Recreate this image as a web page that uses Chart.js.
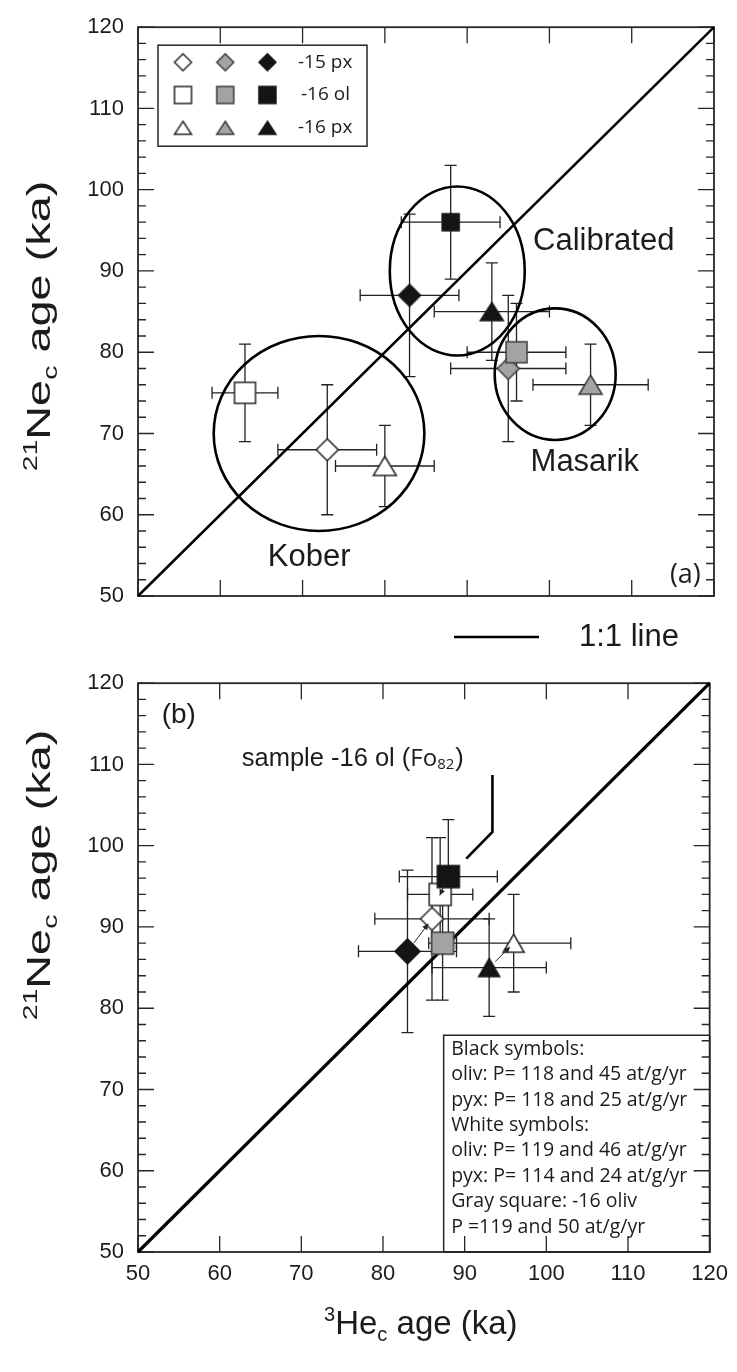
<!DOCTYPE html>
<html><head><meta charset="utf-8">
<script src="https://cdn.jsdelivr.net/npm/chart.js@4.4.0/dist/chart.umd.min.js"></script>
<style>
html,body{margin:0;padding:0;background:#fff;}
#wrapA{position:absolute;left:0;top:0;width:737px;height:656px;}
#wrapB{position:absolute;left:0;top:656px;width:737px;height:716px;}
canvas{display:block;}
</style></head><body>
<div id="wrapA"><canvas id="cA" width="737" height="656"></canvas></div>
<div id="wrapB"><canvas id="cB" width="737" height="716"></canvas></div>
<script>
// ---------------- data ----------------
const axisTicks = [50, 60, 70, 80, 90, 100, 110, 120];
const sampleNames = ['-15 px', '-16 ol', '-16 px'];
const sampleShapes = ['diamond', 'square', 'triangle'];

// Panel (a): x = 3He_c age (ka), y = 21Ne_c age (ka)
const aWhiteHe = [73, 63, 80];
const aWhiteNe = [68, 75, 66];
const aWhiteHeErr = [6, 4, 6];
const aWhiteNeErr = [8, 6, 5];
const aGrayHe = [95, 96, 105];
const aGrayNe = [78, 80, 76];
const aGrayHeErr = [7, 6, 7];
const aGrayNeErr = [9, 6, 5];
const aBlackHe = [83, 88, 93];
const aBlackNe = [87, 96, 85];
const aBlackHeErr = [6, 6, 7];
const aBlackNeErr = [10, 7, 6];

const groupNames = ['Kober', 'Masarik', 'Calibrated'];
const groupHe = [72, 100.7, 88.8];
const groupNe = [70, 77.3, 90];
const groupHeRadius = [12.8, 7.35, 8.2];
const groupNeRadius = [12, 8.1, 10.4];
const groupLabelHe = [70.8, 104.3, 106.6];
const groupLabelNe = [54.8, 66.4, 93.6];

// Panel (b)
const bBlackHe = [83, 88, 93];
const bBlackNe = [87, 96.2, 85];
const bBlackHeErr = [6, 6, 7];
const bBlackNeErr = [10, 7, 6];
const bWhiteHe = [86, 87, 96];
const bWhiteNe = [91, 94, 88];
const bWhiteHeErr = [7, 4, 7];
const bWhiteNeErr = [10, 7, 6];
const bGrayHe = [87.3];
const bGrayNe = [88];
const bGrayHeErr = [1.7];
const bGrayNeErr = [7];

const oneToOne = [50, 120];
const calloutHe = [93.4, 93.4, 90.2];
const calloutNe = [108.7, 101.7, 98.4];
const calloutText = 'sample -16 ol (';
const noteLines = ['Black symbols:', 'oliv: P= 118 and 45 at/g/yr', 'pyx: P= 118 and 25 at/g/yr',
  'White symbols:', 'oliv: P= 119 and 46 at/g/yr', 'pyx: P= 114 and 24 at/g/yr',
  'Gray square: -16 oliv', 'P =119 and 50 at/g/yr'];

// ---------------- styles ----------------
const SANS = '"Liberation Sans", Arial, sans-serif';
const MYR = '"Open Sans", "Noto Sans", sans-serif';
const INK = '#1c1c1c';
const FILL = {white: '#ffffff', gray: '#a3a3a3', black: '#151515'};
const EDGE = {white: '#262626', gray: '#3c3c3c', black: '#151515'};

function marker(shape, tone, w, h) {
  const c = document.createElement('canvas');
  c.width = Math.ceil(w) + 4; c.height = Math.ceil(h) + 4;
  const g = c.getContext('2d');
  g.translate(c.width / 2, c.height / 2);
  g.beginPath();
  if (shape === 'diamond') { g.moveTo(0, -h / 2); g.lineTo(w / 2, 0); g.lineTo(0, h / 2); g.lineTo(-w / 2, 0); g.closePath(); }
  else if (shape === 'square') { g.rect(-w / 2, -h / 2, w, h); }
  else { g.moveTo(0, -h / 2); g.lineTo(w / 2, h / 2); g.lineTo(-w / 2, h / 2); g.closePath(); }
  g.fillStyle = FILL[tone]; g.fill();
  g.lineWidth = 1.5; g.strokeStyle = EDGE[tone]; g.lineJoin = 'miter'; g.stroke();
  return c;
}
const sizeA = {diamond: [22, 22], square: [21, 21], triangle: [23, 19]};
const sizeABlack = {diamond: [22, 22], square: [17, 17], triangle: [23, 18]};
const sizeB = {diamond: [23, 23], square: [22, 22], triangle: [21, 18]};
const sizeBBlack = {diamond: [25, 25], square: [22, 22], triangle: [21, 18]};
const sizeLegend = {diamond: [17, 17], square: [17, 17], triangle: [17, 13]};

function pts(he, ne) { return he.map((v, i) => ({x: v, y: ne[i]})); }
function markerDataset(label, he, ne, heErr, neErr, tone, sizes, shapes) {
  return {
    type: 'scatter', label, data: pts(he, ne), errX: heErr, errY: neErr,
    pointStyle: (shapes || sampleShapes).map(s => marker(s, tone, sizes[s][0], sizes[s][1])),
    pointRadius: 10, showLine: false, order: 0
  };
}
function lineDataset(width) {
  return {type: 'line', data: pts(oneToOne, oneToOne), borderColor: '#000', borderWidth: width,
    pointRadius: 0, showLine: true, fill: false, order: 10, clip: false};
}

function scaleOpts(H, showX) {
  const tickFont = {family: SANS, size: 22};
  const setTicks = s => { s.ticks = axisTicks.map(v => ({value: v})); };
  return {
    x: {type: 'linear', position: 'bottom', min: axisTicks[0], max: axisTicks[axisTicks.length - 1],
      grid: {display: false, drawTicks: false}, border: {display: false},
      afterBuildTicks: setTicks,
      ticks: {display: showX, padding: 9, color: INK, font: tickFont, maxRotation: 0},
      afterFit: s => { s.height = H - 596; }},
    y: {type: 'linear', position: 'left', min: axisTicks[0], max: axisTicks[axisTicks.length - 1],
      grid: {display: false, drawTicks: false}, border: {display: false},
      afterBuildTicks: setTicks,
      ticks: {padding: 14, color: INK, font: tickFont},
      afterFit: s => { s.width = 138; }}
  };
}

// ---------------- drawing helpers ----------------
const framePlugin = {
  id: 'frame',
  beforeDatasetsDraw(chart) {
    const {ctx, scales: {x, y}} = chart;
    const L = x.getPixelForValue(x.min), R = x.getPixelForValue(x.max);
    const T = y.getPixelForValue(y.max), B = y.getPixelForValue(y.min);
    ctx.save();
    ctx.strokeStyle = '#262626'; ctx.lineWidth = 1.3;
    ctx.beginPath();
    axisTicks.forEach(v => { const p = x.getPixelForValue(v); ctx.moveTo(p, B); ctx.lineTo(p, B - 16); ctx.moveTo(p, T); ctx.lineTo(p, T + 16); });
    for (let v = y.min; v <= y.max; v += 2) {
      const p = y.getPixelForValue(v); const len = (v % 10 === 0) ? 16 : 8;
      ctx.moveTo(L, p); ctx.lineTo(L + len, p); ctx.moveTo(R, p); ctx.lineTo(R - len, p);
    }
    ctx.stroke();
    ctx.lineWidth = 1.8; ctx.strokeRect(L, T, R - L, B - T);
    ctx.restore();
  }
};

const errPlugin = {
  id: 'errbars',
  beforeDatasetsDraw(chart) {
    const {ctx, scales: {x, y}} = chart;
    ctx.save(); ctx.strokeStyle = '#222'; ctx.lineWidth = 1.3;
    chart.data.datasets.forEach((ds, di) => {
      if (!ds.errX) return;
      ds.data.forEach((p, i) => {
        const x1 = x.getPixelForValue(p.x - ds.errX[i]), x2 = x.getPixelForValue(p.x + ds.errX[i]);
        const y1 = y.getPixelForValue(p.y - ds.errY[i]), y2 = y.getPixelForValue(p.y + ds.errY[i]);
        const cx = x.getPixelForValue(p.x), cy = y.getPixelForValue(p.y);
        const c = 6;
        ctx.beginPath();
        ctx.moveTo(x1, cy); ctx.lineTo(x2, cy);
        ctx.moveTo(x1, cy - c); ctx.lineTo(x1, cy + c);
        ctx.moveTo(x2, cy - c); ctx.lineTo(x2, cy + c);
        ctx.moveTo(cx, y1); ctx.lineTo(cx, y2);
        ctx.moveTo(cx - c, y1); ctx.lineTo(cx + c, y1);
        ctx.moveTo(cx - c, y2); ctx.lineTo(cx + c, y2);
        ctx.stroke();
      });
    });
    ctx.restore();
  }
};

function drawRich(ctx, parts, cx, cy, base, small) {
  let w = 0;
  parts.forEach(p => { ctx.font = (p[1] === 'n' ? base : small) + 'px ' + SANS; p.w = ctx.measureText(p[0]).width; w += p.w; });
  let xx = cx - w / 2;
  const by = cy + base * 0.36;
  ctx.textAlign = 'left'; ctx.textBaseline = 'alphabetic';
  parts.forEach(p => {
    ctx.font = (p[1] === 'n' ? base : small) + 'px ' + SANS;
    const off = p[1] === 'sup' ? -base * 0.4 : (p[1] === 'sub' ? base * 0.22 : 0);
    ctx.fillText(p[0], xx, by + off); xx += p.w;
  });
}
function yTitle(ctx, cy) {
  ctx.save(); ctx.translate(38, cy); ctx.rotate(-Math.PI / 2); ctx.scale(1.42, 1); ctx.fillStyle = INK;
  drawRich(ctx, [['21', 'sup'], ['Ne', 'n'], ['c', 'sub'], [' age (ka)', 'n']], 0, 0, 33, 20);
  ctx.restore();
}

// ---------------- panel (a) ----------------
const panelAPlugin = {
  id: 'panelA',
  beforeDatasetsDraw(chart) {
    const {ctx, scales: {x, y}} = chart;
    ctx.save(); ctx.strokeStyle = '#000'; ctx.lineWidth = 2.6;
    groupNames.forEach((g, i) => {
      const cx = x.getPixelForValue(groupHe[i]), cy = y.getPixelForValue(groupNe[i]);
      const rx = Math.abs(x.getPixelForValue(groupHe[i] + groupHeRadius[i]) - cx);
      const ry = Math.abs(y.getPixelForValue(groupNe[i] + groupNeRadius[i]) - cy);
      ctx.beginPath(); ctx.ellipse(cx, cy, rx, ry, 0, 0, Math.PI * 2); ctx.stroke();
    });
    ctx.restore();
  },
  afterDatasetsDraw(chart) {
    const {ctx, scales: {x, y}, chartArea: ca} = chart;
    ctx.save();
    ctx.fillStyle = INK; ctx.font = '31px ' + SANS; ctx.textAlign = 'center'; ctx.textBaseline = 'middle';
    groupNames.forEach((g, i) => ctx.fillText(g, x.getPixelForValue(groupLabelHe[i]), y.getPixelForValue(groupLabelNe[i])));
    ctx.font = '27px ' + MYR; ctx.textAlign = 'right';
    ctx.fillText('(a)', x.getPixelForValue(118.4), y.getPixelForValue(52.6));
    // legend box
    const bx = ca.left + 20, by = ca.top + 18, bw = 209, bh = 101;
    ctx.fillStyle = '#fff'; ctx.fillRect(bx, by, bw, bh);
    ctx.strokeStyle = '#262626'; ctx.lineWidth = 1.5; ctx.strokeRect(bx, by, bw, bh);
    const tones = ['white', 'gray', 'black'];
    sampleNames.forEach((name, r) => {
      const ry = by + 17 + r * 32.8;
      tones.forEach((t, c) => {
        const s = sampleShapes[r];
        const m = marker(s, t, sizeLegend[s][0], sizeLegend[s][1]);
        ctx.drawImage(m, bx + 25 + c * 42.2 - m.width / 2, ry - m.height / 2);
      });
      ctx.fillStyle = INK; ctx.font = '19px ' + MYR; ctx.textAlign = 'left'; ctx.textBaseline = 'middle';
      ctx.fillText(name, bx + 140 + (r === 1 ? 3 : 0), ry);
    });
    // 1:1 line key
    const ly = ca.bottom + 41;
    ctx.strokeStyle = '#000'; ctx.lineWidth = 2.5;
    ctx.beginPath(); ctx.moveTo(454, ly); ctx.lineTo(539, ly); ctx.stroke();
    ctx.fillStyle = INK; ctx.font = '31px ' + SANS; ctx.textAlign = 'left'; ctx.textBaseline = 'middle';
    ctx.fillText('1:1 line', 579, ly);
    yTitle(ctx, 326);
    ctx.restore();
  }
};

new Chart(document.getElementById('cA'), {
  data: {datasets: [
    lineDataset(2.5),
    markerDataset('white', aWhiteHe, aWhiteNe, aWhiteHeErr, aWhiteNeErr, 'white', sizeA),
    markerDataset('gray', aGrayHe, aGrayNe, aGrayHeErr, aGrayNeErr, 'gray', sizeA),
    markerDataset('black', aBlackHe, aBlackNe, aBlackHeErr, aBlackNeErr, 'black', sizeABlack)
  ]},
  options: {
    responsive: false, devicePixelRatio: 1, animation: false, events: [],
    layout: {padding: {top: 20, right: 23, left: 0, bottom: 0}},
    plugins: {legend: {display: false}, tooltip: {enabled: false}},
    scales: scaleOpts(656, false)
  },
  plugins: [framePlugin, errPlugin, panelAPlugin]
});

// ---------------- panel (b) ----------------
function arrow(ctx, x0, y0, x1, y1) {
  const a = Math.atan2(y1 - y0, x1 - x0), L = 6, W = 3;
  ctx.beginPath(); ctx.moveTo(x0, y0); ctx.lineTo(x1, y1); ctx.stroke();
  ctx.beginPath(); ctx.moveTo(x1, y1);
  ctx.lineTo(x1 - L * Math.cos(a) + W * Math.sin(a), y1 - L * Math.sin(a) - W * Math.cos(a));
  ctx.lineTo(x1 - L * Math.cos(a) - W * Math.sin(a), y1 - L * Math.sin(a) + W * Math.cos(a));
  ctx.closePath(); ctx.fill();
}
const panelBPlugin = {
  id: 'panelB',
  afterDatasetsDraw(chart) {
    const {ctx, scales: {x, y}, chartArea: ca} = chart;
    ctx.save();
    // arrows black -> white
    ctx.strokeStyle = '#222'; ctx.fillStyle = '#222'; ctx.lineWidth = 1;
    bBlackHe.forEach((v, i) => {
      const x0 = x.getPixelForValue(v), y0 = y.getPixelForValue(bBlackNe[i]);
      const x1 = x.getPixelForValue(bWhiteHe[i]), y1 = y.getPixelForValue(bWhiteNe[i]);
      const f0 = 0.25, f1 = i === 1 ? 1.05 : 0.85;
      arrow(ctx, x0 + (x1 - x0) * f0, y0 + (y1 - y0) * f0, x0 + (x1 - x0) * f1, y0 + (y1 - y0) * f1);
    });
    // callout line
    ctx.strokeStyle = '#000'; ctx.lineWidth = 2.6; ctx.lineJoin = 'miter';
    ctx.beginPath();
    calloutHe.forEach((v, i) => { const px = x.getPixelForValue(v), py = y.getPixelForValue(calloutNe[i]); i ? ctx.lineTo(px, py) : ctx.moveTo(px, py); });
    ctx.stroke();
    // callout text
    ctx.fillStyle = INK; ctx.textBaseline = 'alphabetic'; ctx.textAlign = 'left';
    let tx = x.getPixelForValue(62.7); const ty = y.getPixelForValue(110.9) + 9;
    ctx.font = '25.5px ' + SANS; ctx.fillText(calloutText, tx, ty); tx += ctx.measureText(calloutText).width;
    ctx.font = '24px ' + MYR; ctx.fillText('Fo', tx, ty); tx += ctx.measureText('Fo').width;
    ctx.font = '15px ' + MYR; ctx.fillText('82', tx, ty + 3); tx += ctx.measureText('82').width + 1;
    ctx.font = '25.5px ' + SANS; ctx.fillText(')', tx, ty);
    // (b)
    ctx.font = '28px ' + SANS; ctx.textBaseline = 'middle';
    ctx.fillText('(b)', x.getPixelForValue(52.9), y.getPixelForValue(116.1));
    // note box
    const bx = ca.right - 266, by = ca.top + 352;
    ctx.fillStyle = '#fff'; ctx.fillRect(bx, by, ca.right - bx, ca.bottom - by);
    ctx.strokeStyle = '#262626'; ctx.lineWidth = 1.5;
    ctx.beginPath(); ctx.moveTo(bx, ca.bottom); ctx.lineTo(bx, by); ctx.lineTo(ca.right, by); ctx.stroke();
    ctx.fillStyle = INK; ctx.font = '19.5px ' + MYR; ctx.textBaseline = 'middle';
    noteLines.forEach((t, i) => ctx.fillText(t, bx + 7.5, by + 14 + i * 25.4));
    // redraw ticks on right and bottom within the box area
    ctx.strokeStyle = '#262626'; ctx.lineWidth = 1.3; ctx.beginPath();
    for (let v = y.min; v <= y.max; v += 2) {
      const p = y.getPixelForValue(v); if (p < by) continue;
      const len = (v % 10 === 0) ? 16 : 8; ctx.moveTo(ca.right, p); ctx.lineTo(ca.right - len, p);
    }
    axisTicks.forEach(v => { const p = x.getPixelForValue(v); if (p > bx) { ctx.moveTo(p, ca.bottom); ctx.lineTo(p, ca.bottom - 16); } });
    ctx.stroke();
    ctx.lineWidth = 1.8; ctx.beginPath(); ctx.moveTo(bx, ca.bottom); ctx.lineTo(ca.right, ca.bottom); ctx.lineTo(ca.right, by); ctx.stroke();
    // titles
    yTitle(ctx, 219);
    ctx.fillStyle = INK;
    drawRich(ctx, [['3', 'sup'], ['He', 'n'], ['c', 'sub'], [' age (ka)', 'n']], (ca.left + ca.right) / 2 - 3, 666, 33, 20);
    ctx.restore();
  }
};

new Chart(document.getElementById('cB'), {
  data: {datasets: [
    lineDataset(3.2),
    markerDataset('gray', bGrayHe, bGrayNe, bGrayHeErr, bGrayNeErr, 'gray', sizeB, ['square']),
    markerDataset('black', bBlackHe, bBlackNe, bBlackHeErr, bBlackNeErr, 'black', sizeBBlack),
    markerDataset('white', bWhiteHe, bWhiteNe, bWhiteHeErr, bWhiteNeErr, 'white', sizeB)
  ]},
  options: {
    responsive: false, devicePixelRatio: 1, animation: false, events: [],
    layout: {padding: {top: 20, right: 23, left: 0, bottom: 0}},
    plugins: {legend: {display: false}, tooltip: {enabled: false}},
    scales: scaleOpts(716, true)
  },
  plugins: [framePlugin, errPlugin, panelBPlugin]
});
</script>
</body></html>
